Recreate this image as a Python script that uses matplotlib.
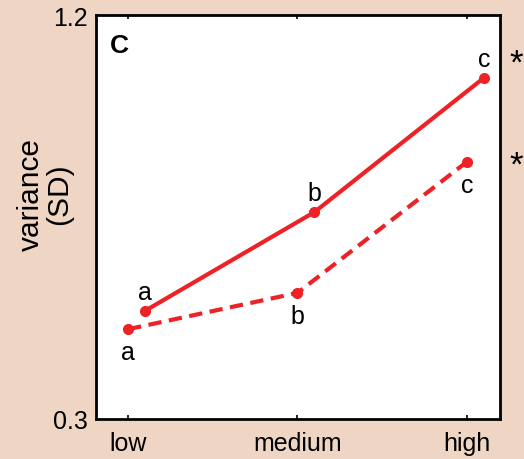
import matplotlib
matplotlib.use("Agg")
import matplotlib.pyplot as plt

plt.rcParams['font.family'] = ['Liberation Sans', 'DejaVu Sans']

categories = ["low", "medium", "high"]
solid_values = [0.541, 0.761, 1.06]
dashed_values = [0.50, 0.581, 0.873]
solid_letters = ["a", "b", "c"]
dashed_letters = ["a", "b", "c"]
star_levels = [1.106, 0.879]
y_ticks = [0.3, 1.2]

bg = "#EFD6C4"
red = "#EE2226"

fig = plt.figure(figsize=(5.24, 4.60), dpi=100, facecolor=bg)
ax = fig.add_axes([0.183, 0.087, 0.771, 0.878])
ax.set_facecolor("white")

xs = [1, 2, 3]
xs_solid = [x + 0.1 for x in xs]

ax.plot(xs_solid, solid_values, color=red, lw=3.0, marker="o", ms=7)
ax.plot(xs, dashed_values, color=red, lw=3.0, ls=(0, (3.2, 1.8)), marker="o", ms=7)

fs = 18
for x, v, t in zip(xs_solid, solid_values, solid_letters):
    ax.annotate(t, (x, v), xytext=(0, 5), textcoords="offset points",
                ha="center", va="bottom", fontsize=fs)
for x, v, t in zip(xs, dashed_values, dashed_letters):
    ax.annotate(t, (x, v), xytext=(0, -8), textcoords="offset points",
                ha="center", va="top", fontsize=fs)

# significance markers right of the plot
for v in star_levels:
    ax.annotate("*", (1.0, v), xycoords=("axes fraction", "data"),
                xytext=(7, -4), textcoords="offset points",
                ha="left", va="center", fontsize=25, annotation_clip=False)

ax.text(0.057, 0.925, "C", transform=ax.transAxes, fontsize=19,
        fontweight="bold", ha="center", va="center")

ax.set_xlim(0.81, 3.195)
ax.set_ylim(0.3, 1.2)
ax.set_xticks(xs)
ax.set_xticklabels(categories, fontsize=fs)
ax.set_yticks(y_ticks)
ax.set_yticklabels([str(v) for v in y_ticks], fontsize=fs)
ax.tick_params(direction="in", length=3, width=1.2, top=True, pad=9)
ax.tick_params(axis="y", length=0, pad=6)
for s in ax.spines.values():
    s.set_linewidth(2)

fig.text(0.086, 0.578, "variance\n(SD)", rotation=90, ha="center", va="center",
         fontsize=21.5, linespacing=1.0)

fig.savefig("out.png", dpi=100, facecolor=bg)
